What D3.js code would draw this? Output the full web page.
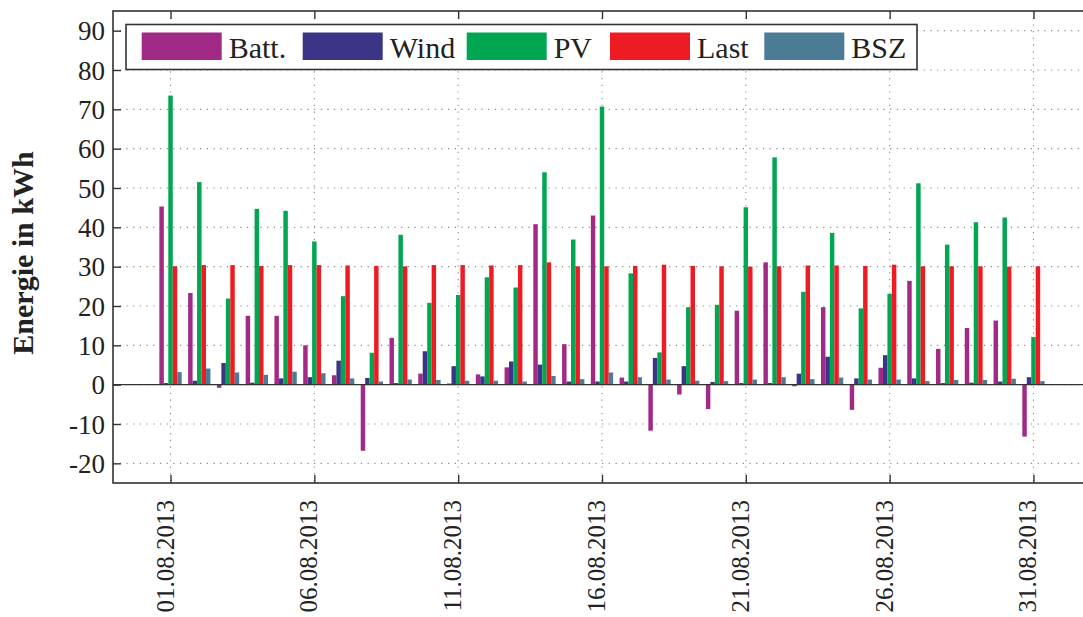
<!DOCTYPE html>
<html>
<head>
<meta charset="utf-8">
<script src="https://cdn.jsdelivr.net/npm/d3@7"></script>
<style>
  html, body { margin: 0; padding: 0; background: #fff; }
  svg { display: block; }
</style>
</head>
<body>
<svg id="chart" width="1083" height="617"></svg>
<script>
// ---- data ----
const days = d3.range(1, 32);
const seriesNames = ["Batt.", "Wind", "PV", "Last", "BSZ"];
const seriesColors = ["#a12a86", "#3b3487", "#00a651", "#ed1c24", "#4b7b95"];
const batt = [45.3, 23.3, -0.8, 17.5, 17.5, 10.0, 2.4, -16.8, 11.9, 2.8, 0.3, 2.6, 4.4, 40.8, 10.3, 43.0, 1.8, -11.7, -2.5, -6.2, 18.8, 31.1, -0.4, 19.7, -6.4, 4.3, 26.4, 9.1, 14.4, 16.3, -13.2];
const wind = [0.4, 1.0, 5.5, 0.5, 1.6, 1.9, 6.1, 1.7, 0.4, 8.5, 4.7, 2.1, 5.9, 5.1, 0.8, 0.8, 0.8, 6.8, 4.7, 0.7, 0.4, 0.4, 2.8, 7.1, 1.6, 7.5, 1.6, 0.4, 0.5, 0.8, 1.9];
const pv   = [73.5, 51.5, 21.9, 44.7, 44.2, 36.4, 22.5, 8.1, 38.1, 20.8, 22.8, 27.3, 24.7, 54.0, 36.9, 70.7, 28.3, 8.2, 19.7, 20.3, 45.1, 57.8, 23.6, 38.6, 19.4, 23.1, 51.2, 35.6, 41.3, 42.5, 12.1];
const last = [30.1, 30.4, 30.4, 30.2, 30.4, 30.4, 30.3, 30.2, 30.1, 30.4, 30.4, 30.3, 30.4, 31.1, 30.1, 30.1, 30.2, 30.5, 30.2, 30.1, 30.0, 30.1, 30.3, 30.3, 30.2, 30.5, 30.1, 30.1, 30.1, 30.0, 30.1];
const bsz  = [3.2, 4.1, 3.1, 2.5, 3.3, 2.9, 1.6, 0.8, 1.3, 1.2, 1.0, 1.0, 0.8, 2.2, 1.4, 3.1, 1.9, 1.3, 1.0, 0.9, 1.3, 1.9, 1.4, 1.8, 1.3, 1.3, 0.9, 1.2, 1.2, 1.5, 0.9];
const seriesValues = [batt, wind, pv, last, bsz];
const xTickDays = [1, 6, 11, 16, 21, 26, 31];
const xTickLabels = ["01.08.2013", "06.08.2013", "11.08.2013", "16.08.2013", "21.08.2013", "26.08.2013", "31.08.2013"];
const yTicks = [-20, -10, 0, 10, 20, 30, 40, 50, 60, 70, 80, 90];
const yLabel = "Energie in kWh";

// ---- layout ----
const FONT = "'Liberation Serif', 'Times New Roman', Tinos, 'DejaVu Serif', serif";
const svg = d3.select("#chart");
const L = 113, R = 1091, T = 11, B = 483;
const x = d3.scaleLinear().domain([-1, 33]).range([L, R]);
const y = d3.scaleLinear().domain([-25, 95]).range([B, T]);
const groupWidth = 0.776;
const nS = seriesNames.length;
const barW = (x(1) - x(0)) * groupWidth / nS;

const axisColor = "#333";

// grid
const grid = svg.append("g");
grid.selectAll("line.h").data(yTicks).join("line")
  .attr("x1", L).attr("x2", R).attr("y1", d => y(d)).attr("y2", d => y(d))
  .attr("stroke", "#888").attr("stroke-width", 1.1).attr("stroke-dasharray", "1.2,5.5");
grid.selectAll("line.v").data(xTickDays).join("line")
  .attr("x1", d => x(d)).attr("x2", d => x(d)).attr("y1", T).attr("y2", B)
  .attr("stroke", "#888").attr("stroke-width", 1.1).attr("stroke-dasharray", "1.2,5.5");

// bars
const barsG = svg.append("g");
seriesValues.forEach((vals, si) => {
  barsG.append("g").selectAll("rect").data(vals).join("rect")
    .attr("x", (v, i) => x(days[i]) + (si - (nS - 1) / 2) * barW - barW / 2)
    .attr("width", barW)
    .attr("y", v => y(Math.max(0, v)))
    .attr("height", v => Math.abs(y(v) - y(0)))
    .attr("fill", seriesColors[si]);
});

// zero baseline
svg.append("line").attr("x1", L).attr("x2", R).attr("y1", y(0)).attr("y2", y(0))
  .attr("stroke", axisColor).attr("stroke-width", 1.4);

// axes (inward ticks)
const tickLen = 8;
const yAxis = d3.axisLeft(y).tickValues(yTicks).tickFormat(d => String(d))
  .tickSizeInner(-tickLen).tickSizeOuter(0).tickPadding(16);
const gy = svg.append("g").attr("transform", `translate(${L},0)`).call(yAxis);
gy.attr("font-family", FONT).attr("font-size", 27);
gy.select(".domain").remove();
gy.selectAll(".tick line").attr("stroke", axisColor).attr("stroke-width", 1.4);
gy.selectAll(".tick text").attr("font-family", FONT).style("font-family", FONT).style("font-size", "27px").attr("fill", "#222")
  .attr("x", -8).attr("dy", "0.34em");

const xAxisB = d3.axisBottom(x).tickValues(xTickDays).tickSizeInner(-tickLen).tickSizeOuter(0).tickFormat("");
const gxb = svg.append("g").attr("transform", `translate(0,${B})`).call(xAxisB);
gxb.select(".domain").remove();
gxb.selectAll(".tick line").attr("stroke", axisColor).attr("stroke-width", 1.4);

const xAxisT = d3.axisTop(x).tickValues(xTickDays).tickSizeInner(-tickLen).tickSizeOuter(0).tickFormat("");
const gxt = svg.append("g").attr("transform", `translate(0,${T})`).call(xAxisT);
gxt.select(".domain").remove();
gxt.selectAll(".tick line").attr("stroke", axisColor).attr("stroke-width", 1.4);

// frame
svg.append("rect").attr("x", L).attr("y", T).attr("width", R - L).attr("height", B - T)
  .attr("fill", "none").attr("stroke", axisColor).attr("stroke-width", 1.6);

// x tick labels (rotated)
svg.append("g").selectAll("text").data(xTickDays).join("text")
  .attr("transform", (d) => `translate(${x(d) + 3},${500}) rotate(-90)`)
  .attr("text-anchor", "end")
  .attr("fill", "#222")
  .style("font-family", FONT)
  .style("font-size", "25px")
  .text((d, i) => xTickLabels[i]);

// y label
svg.append("text")
  .attr("transform", `translate(33,${253}) rotate(-90)`)
  .attr("text-anchor", "middle")
  .attr("fill", "#222")
  .style("font-family", FONT)
  .style("font-size", "30px").style("font-weight", "bold")
  .text(yLabel);

// legend
const legX = [141.7, 302.7, 466.7, 610, 764.3];
const leg = svg.append("g");
leg.append("rect").attr("x", 126).attr("y", 24.5).attr("width", 791).attr("height", 45)
  .attr("fill", "#fff").attr("stroke", axisColor).attr("stroke-width", 1.6);
seriesNames.forEach((n, i) => {
  leg.append("rect").attr("x", legX[i]).attr("y", 32.5).attr("width", 80).attr("height", 27.5)
    .attr("fill", seriesColors[i]);
  leg.append("text").attr("x", legX[i] + 87).attr("y", 57.5)
    .attr("fill", "#222")
    .style("font-family", FONT)
    .style("font-size", "30px").text(n);
});
</script>
</body>
</html>
